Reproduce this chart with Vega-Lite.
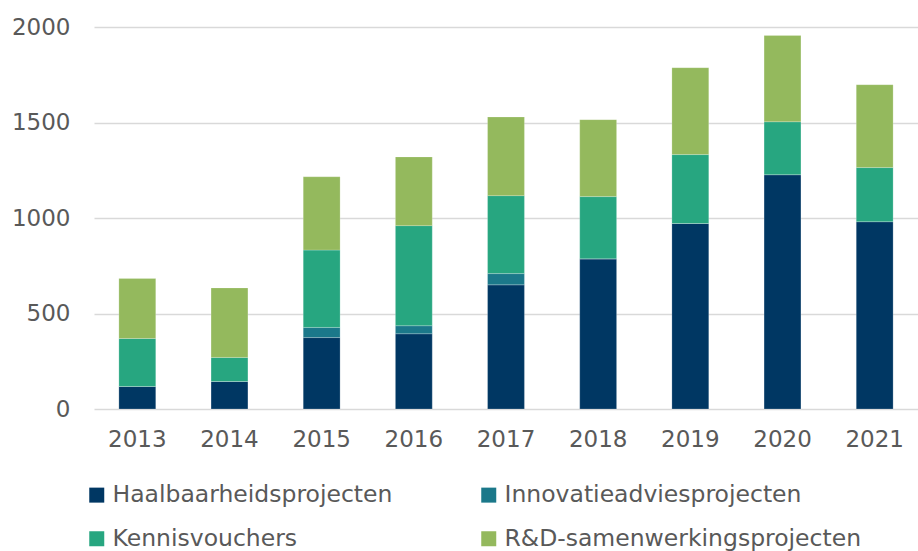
{
  "$schema": "https://vega.github.io/schema/vega-lite/v6.json",
  "autosize": "none",
  "width": 824,
  "height": 382,
  "padding": {"left": 94, "top": 27, "right": 0, "bottom": 142},
  "background": "white",
  "config": {"view": {"stroke": null}, "font": "DejaVu Sans"},
  "data": {"values": [
    {"year": "2013", "type": "Haalbaarheidsprojecten", "k": 1, "value": 118},
    {"year": "2013", "type": "Innovatieadviesprojecten", "k": 2, "value": 0},
    {"year": "2013", "type": "Kennisvouchers", "k": 3, "value": 251},
    {"year": "2013", "type": "R&D-samenwerkingsprojecten", "k": 4, "value": 314},
    {"year": "2014", "type": "Haalbaarheidsprojecten", "k": 1, "value": 144},
    {"year": "2014", "type": "Innovatieadviesprojecten", "k": 2, "value": 0},
    {"year": "2014", "type": "Kennisvouchers", "k": 3, "value": 126},
    {"year": "2014", "type": "R&D-samenwerkingsprojecten", "k": 4, "value": 364},
    {"year": "2015", "type": "Haalbaarheidsprojecten", "k": 1, "value": 374},
    {"year": "2015", "type": "Innovatieadviesprojecten", "k": 2, "value": 53},
    {"year": "2015", "type": "Kennisvouchers", "k": 3, "value": 405},
    {"year": "2015", "type": "R&D-samenwerkingsprojecten", "k": 4, "value": 384},
    {"year": "2016", "type": "Haalbaarheidsprojecten", "k": 1, "value": 394},
    {"year": "2016", "type": "Innovatieadviesprojecten", "k": 2, "value": 42},
    {"year": "2016", "type": "Kennisvouchers", "k": 3, "value": 524},
    {"year": "2016", "type": "R&D-samenwerkingsprojecten", "k": 4, "value": 360},
    {"year": "2017", "type": "Haalbaarheidsprojecten", "k": 1, "value": 650},
    {"year": "2017", "type": "Innovatieadviesprojecten", "k": 2, "value": 59},
    {"year": "2017", "type": "Kennisvouchers", "k": 3, "value": 408},
    {"year": "2017", "type": "R&D-samenwerkingsprojecten", "k": 4, "value": 412},
    {"year": "2018", "type": "Haalbaarheidsprojecten", "k": 1, "value": 786},
    {"year": "2018", "type": "Innovatieadviesprojecten", "k": 2, "value": 0},
    {"year": "2018", "type": "Kennisvouchers", "k": 3, "value": 326},
    {"year": "2018", "type": "R&D-samenwerkingsprojecten", "k": 4, "value": 403},
    {"year": "2019", "type": "Haalbaarheidsprojecten", "k": 1, "value": 971},
    {"year": "2019", "type": "Innovatieadviesprojecten", "k": 2, "value": 0},
    {"year": "2019", "type": "Kennisvouchers", "k": 3, "value": 361},
    {"year": "2019", "type": "R&D-samenwerkingsprojecten", "k": 4, "value": 455},
    {"year": "2020", "type": "Haalbaarheidsprojecten", "k": 1, "value": 1227},
    {"year": "2020", "type": "Innovatieadviesprojecten", "k": 2, "value": 0},
    {"year": "2020", "type": "Kennisvouchers", "k": 3, "value": 277},
    {"year": "2020", "type": "R&D-samenwerkingsprojecten", "k": 4, "value": 452},
    {"year": "2021", "type": "Haalbaarheidsprojecten", "k": 1, "value": 981},
    {"year": "2021", "type": "Innovatieadviesprojecten", "k": 2, "value": 0},
    {"year": "2021", "type": "Kennisvouchers", "k": 3, "value": 283},
    {"year": "2021", "type": "R&D-samenwerkingsprojecten", "k": 4, "value": 434}
  ]},
  "mark": {"type": "bar", "stroke": "white", "strokeOpacity": 0.35, "strokeWidth": 0.6},
  "encoding": {
    "x": {
      "field": "year", "type": "ordinal", "title": null,
      "scale": {"paddingInner": 0.6, "paddingOuter": 0.27},
      "axis": {"labelAngle": 0, "labelFontSize": 23, "labelColor": "#595959", "labelFont": "DejaVu Sans",
               "ticks": false, "domain": false, "labelPadding": 19}
    },
    "y": {
      "field": "value", "type": "quantitative", "stack": "zero", "title": null,
      "scale": {"domain": [0, 2000], "nice": false},
      "axis": {"values": [0, 500, 1000, 1500, 2000], "format": "d", "labelFontSize": 23, "labelColor": "#595959", "labelFont": "DejaVu Sans",
               "ticks": false, "domain": false, "labelPadding": 24, "gridColor": "#d9d9d9", "gridWidth": 1.5}
    },
    "color": {
      "field": "type", "type": "nominal", "title": null,
      "scale": {
        "domain": ["Haalbaarheidsprojecten", "Innovatieadviesprojecten", "Kennisvouchers", "R&D-samenwerkingsprojecten"],
        "range": ["#003763", "#1b788a", "#27a680", "#94b95d"]
      },
      "legend": {
        "orient": "none", "direction": "horizontal", "legendX": -9, "legendY": 456, "columns": 2, "columnPadding": 84, "rowPadding": 19,
        "symbolType": "square", "symbolSize": 225, "symbolStrokeWidth": 0, "symbolOffset": 0,
        "labelFontSize": 23.5, "labelColor": "#595959", "labelFont": "DejaVu Sans", "labelOffset": 4, "labelLimit": 500
      }
    },
    "order": {"field": "k", "type": "quantitative", "sort": "ascending"}
  }
}
